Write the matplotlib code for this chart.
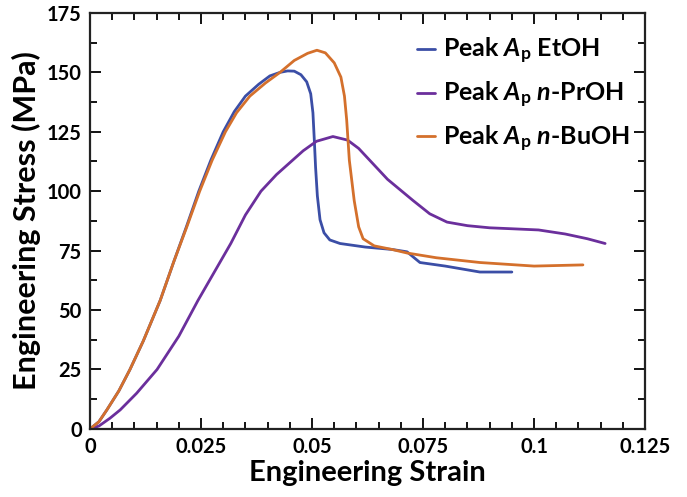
import matplotlib
matplotlib.use("Agg")
import matplotlib.pyplot as plt
from matplotlib.ticker import MultipleLocator, FixedFormatter, FixedLocator

# strain / stress
etoh_strain = [0.0, 0.002, 0.0038, 0.0065, 0.009, 0.012, 0.0158, 0.0188, 0.0217,
               0.0245, 0.0272, 0.03, 0.0325, 0.035, 0.038, 0.0405, 0.0428,
               0.0445, 0.046, 0.0475, 0.0488, 0.0497, 0.0502, 0.0505, 0.0508,
               0.0512, 0.0518, 0.0527, 0.054, 0.0563, 0.062, 0.068, 0.0714,
               0.073, 0.0743, 0.08, 0.0878, 0.095]
etoh_stress = [0.0, 3, 8, 16, 25, 37, 54, 70, 85,
               100, 113, 125, 133.5, 140, 145, 148.5, 150,
               150.6, 150.5, 149, 146, 141, 133, 122, 110,
               98, 88, 82.5, 79.5, 78, 76.5, 75.5, 74.5,
               72, 70, 68.5, 66, 66]

proh_strain = [0.0, 0.002, 0.0045, 0.0068, 0.0105, 0.0151, 0.02, 0.0243, 0.028,
               0.0317, 0.035, 0.0385, 0.042, 0.045, 0.048, 0.051, 0.0547,
               0.058, 0.0605, 0.063, 0.067, 0.0728, 0.0765, 0.0804, 0.085,
               0.09, 0.095, 0.101, 0.107, 0.112, 0.116]
proh_stress = [0.0, 1.2, 4.5, 8, 15, 25, 39, 54, 66,
               78, 90, 100, 107, 112, 117, 121, 123,
               121.5, 118, 113, 105, 96, 90.5, 87, 85.5,
               84.6, 84.2, 83.7, 82, 80, 78]

buoh_strain = [0.0, 0.002, 0.0038, 0.0065, 0.009, 0.012, 0.0158, 0.0188, 0.0218,
               0.0247, 0.0275, 0.0305, 0.033, 0.036, 0.0395, 0.0428, 0.046,
               0.049, 0.0511, 0.053, 0.055, 0.0565, 0.0573, 0.0578, 0.0584,
               0.0595, 0.0605, 0.0615, 0.064, 0.068, 0.0714, 0.078, 0.0878,
               0.1, 0.111]
buoh_stress = [0.0, 3, 8, 16, 25, 37, 54, 70, 85,
               100, 113, 125, 133, 140, 145.5, 150, 155,
               158, 159.3, 158.2, 154, 148, 140, 130, 113,
               96, 85, 80, 77, 75.5, 74, 72, 70,
               68.5, 69]

labels = [r"Peak $\mathit{A}_{\mathrm{p}}$ EtOH",
          r"Peak $\mathit{A}_{\mathrm{p}}$ $\mathit{n}$-PrOH",
          r"Peak $\mathit{A}_{\mathrm{p}}$ $\mathit{n}$-BuOH"]
colors = ["#3b4ea6", "#6b2f9c", "#d4702c"]

x_ticks = [0, 0.025, 0.05, 0.075, 0.1, 0.125]
x_ticklabels = ["0", "0.025", "0.05", "0.075", "0.1", "0.125"]
y_ticks = [0, 25, 50, 75, 100, 125, 150, 175]

plt.rcParams.update({
    "font.family": "Lato",
    "font.weight": "bold",
    "mathtext.fontset": "custom",
    "mathtext.rm": "Lato:bold",
    "mathtext.it": "Lato:bold:italic",
    "mathtext.bf": "Lato:bold",
})

fig = plt.figure(figsize=(6.87, 4.97), dpi=100)
ax = fig.add_axes([0.131, 0.137, 0.808, 0.837])

for xs, ys, c, lab in [(etoh_strain, etoh_stress, colors[0], labels[0]),
                       (proh_strain, proh_stress, colors[1], labels[1]),
                       (buoh_strain, buoh_stress, colors[2], labels[2])]:
    ax.plot(xs, ys, color=c, lw=2.0, label=lab,
            solid_joinstyle="round", solid_capstyle="round")

ax.set_xlim(0, 0.125)
ax.set_ylim(0, 175)
ax.xaxis.set_major_locator(FixedLocator(x_ticks))
ax.xaxis.set_major_formatter(FixedFormatter(x_ticklabels))
ax.xaxis.set_minor_locator(MultipleLocator(0.005))
ax.yaxis.set_major_locator(FixedLocator(y_ticks))
ax.yaxis.set_minor_locator(MultipleLocator(12.5))

ax.tick_params(which="both", direction="in", top=True, right=True,
               width=1.3, labelsize=14.5, pad=6)
ax.tick_params(which="major", length=8)
ax.tick_params(which="minor", length=5)
for s in ax.spines.values():
    s.set_linewidth(1.6)
    s.set_color("#222222")

ax.set_xlabel("Engineering Strain", fontsize=21, fontweight="bold", labelpad=2)
ax.set_ylabel("Engineering Stress (MPa)", fontsize=22, fontweight="bold", labelpad=4)

leg = ax.legend(loc="upper right", frameon=False, fontsize=18,
                handlelength=0.7, handletextpad=0.35, labelspacing=0.55,
                borderaxespad=0.2, bbox_to_anchor=(1.0, 0.98))

fig.savefig("out.png", dpi=100)
